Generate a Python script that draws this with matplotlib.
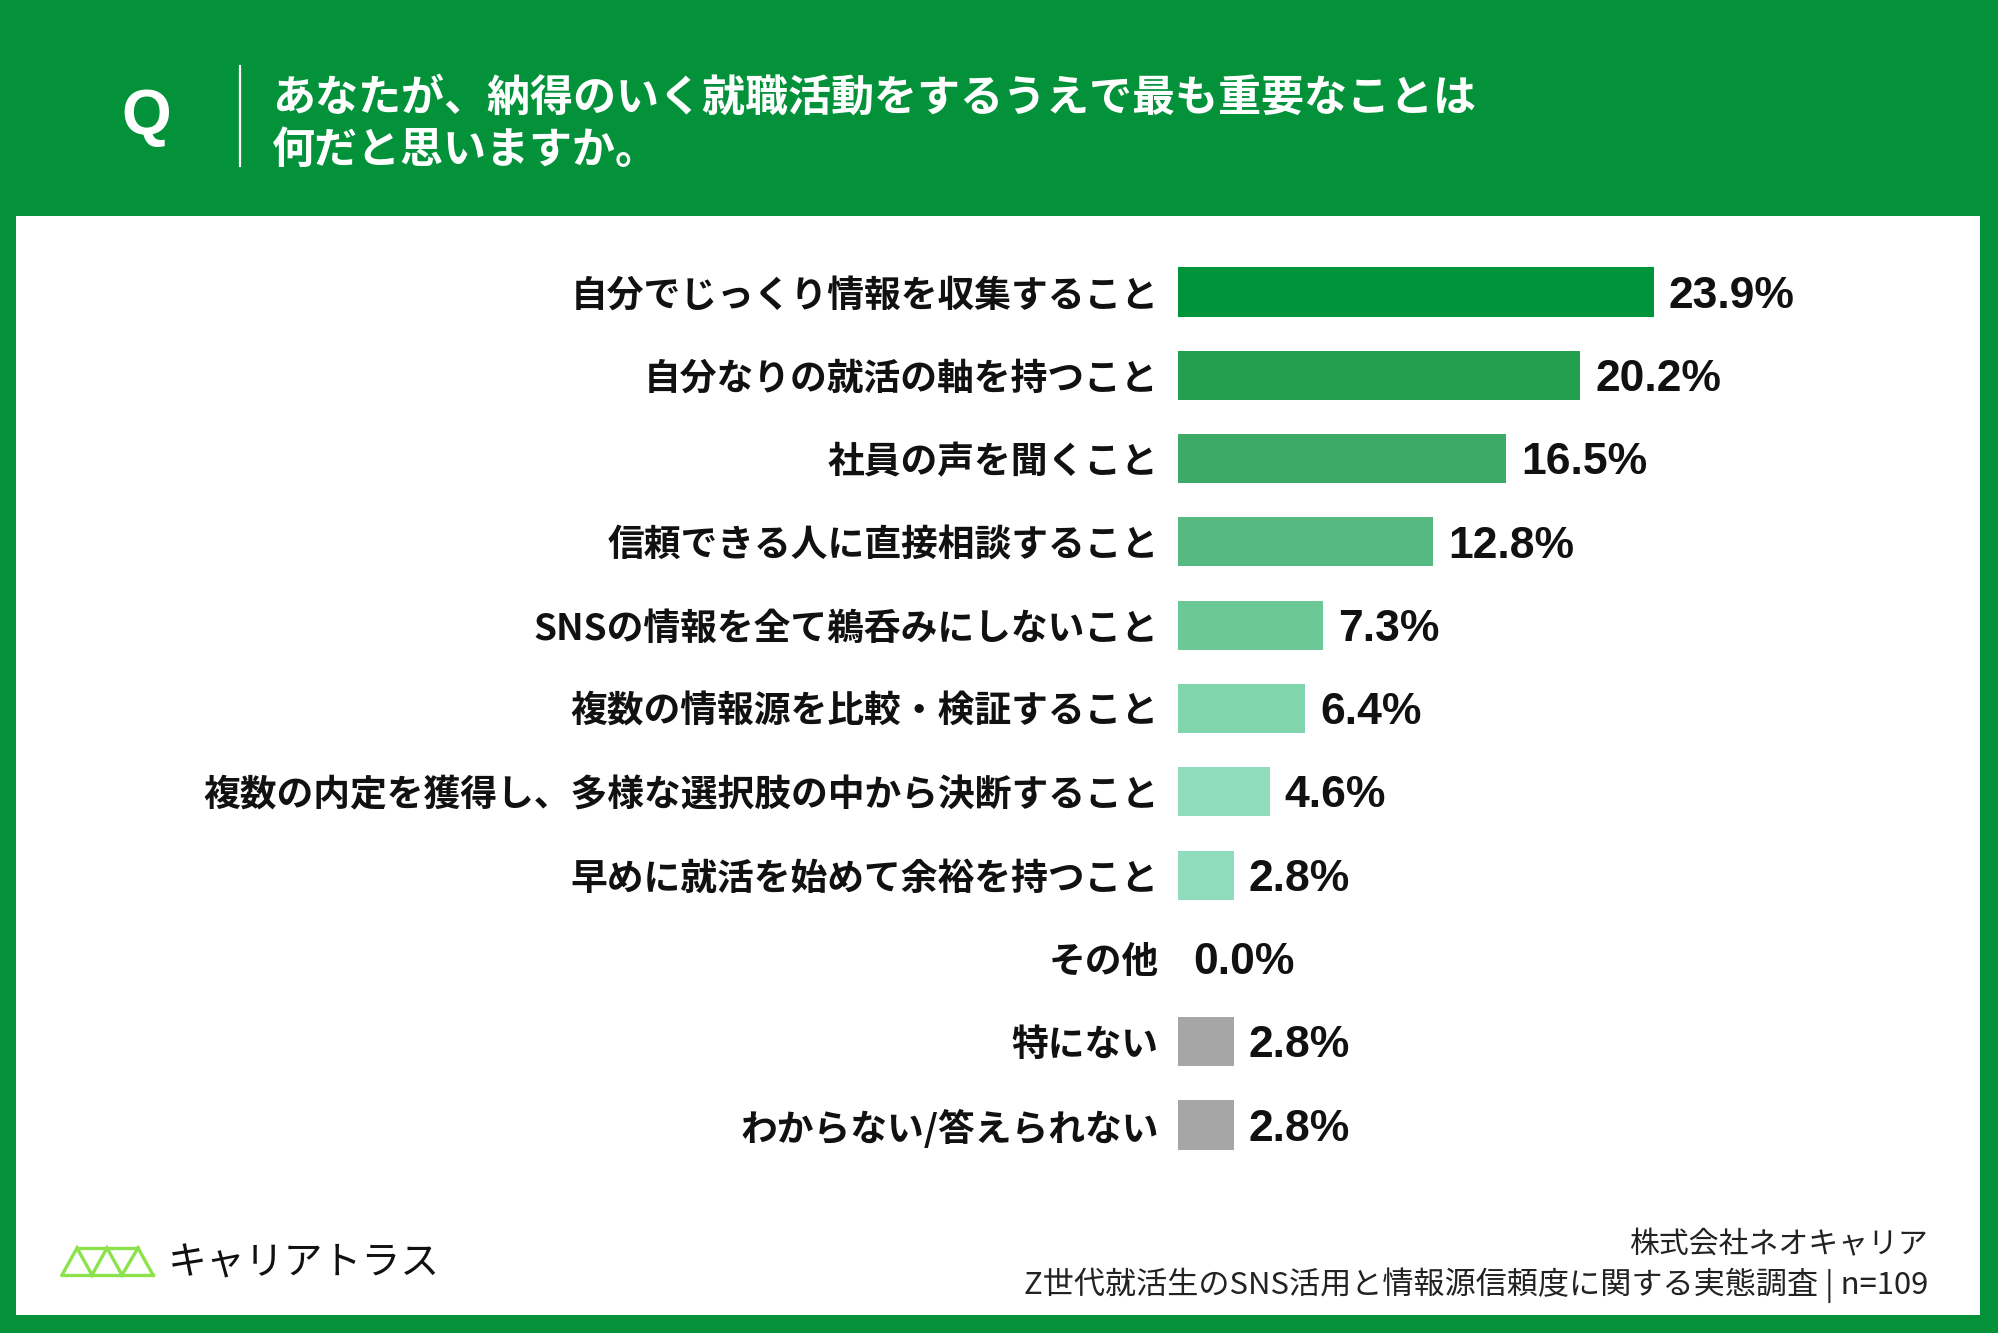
"""Job-hunting priorities survey: horizontal bar chart on a green card."""

import matplotlib.pyplot as plt
import matplotlib.patches as patches
from matplotlib.lines import Line2D

plt.rcParams['font.family'] = ['Noto Sans CJK JP', 'DejaVu Sans']

QUESTION = 'あなたが、納得のいく就職活動をするうえで最も重要なことは\n何だと思いますか。'
CATEGORIES = [
    '自分でじっくり情報を収集すること',
    '自分なりの就活の軸を持つこと',
    '社員の声を聞くこと',
    '信頼できる人に直接相談すること',
    'SNSの情報を全て鵜呑みにしないこと',
    '複数の情報源を比較・検証すること',
    '複数の内定を獲得し、多様な選択肢の中から決断すること',
    '早めに就活を始めて余裕を持つこと',
    'その他',
    '特にない',
    'わからない/答えられない',
]
VALUES = [23.9, 20.2, 16.5, 12.8, 7.3, 6.4, 4.6, 2.8, 0.0, 2.8, 2.8]
BAR_COLORS = [
    '#00953b', '#22a04f', '#3dab67', '#55b981', '#6bc897', '#80d5ac',
    '#8fddbc', '#8fddbc', '#8fddbc', '#a6a6a6', '#a6a6a6',
]
COMPANY = '株式会社ネオキャリア'
SURVEY = 'Z世代就活生のSNS活用と情報源信頼度に関する実態調査 | n=109'
BRAND = 'キャリアトラス'

GREEN = '#03923a'
W, H = 1999, 1333

fig = plt.figure(figsize=(W / 100, H / 100), dpi=100)
fig.patch.set_facecolor(GREEN)

# white card, kept below the axes
fig.patches.append(patches.Rectangle(
    (16 / W, 1 - 1315 / H), (1980 - 16) / W, (1315 - 216) / H,
    transform=fig.transFigure, facecolor='white', edgecolor='none', zorder=-5,
))

# header
fig.text(146 / W, 1 - 118 / H, 'Q', color='white', fontsize=46,
         fontweight='bold', ha='center', va='center',
         family=['Liberation Sans', 'DejaVu Sans'])
fig.add_artist(Line2D([240 / W, 240 / W], [1 - 66 / H, 1 - 166 / H],
                      color='white', linewidth=1.6, transform=fig.transFigure))
fig.text(272 / W, 1 - 124 / H, QUESTION, color='white', fontsize=31,
         fontweight='bold', ha='left', va='center', linespacing=1.25)

# chart area: bars start at x=1178px, ~19.9px per percent
left_px, top_px, step_px = 1178, 292 - 83.3 / 2, 83.3
ax = fig.add_axes([
    left_px / W,
    1 - (top_px + step_px * len(CATEGORIES)) / H,
    (19.9 * 40) / W,
    step_px * len(CATEGORIES) / H,
])
ax.set_zorder(5)
ax.set_facecolor('none')
positions = list(range(len(CATEGORIES)))
ax.barh(positions, VALUES, height=0.59, color=BAR_COLORS, zorder=2)
ax.set_xlim(0, 40)
ax.set_ylim(len(CATEGORIES) - 0.5, -0.5)
ax.set_xticks([])
ax.set_yticks(positions)
ax.set_yticklabels(CATEGORIES, fontsize=26.5, fontweight='bold', color='#111111')
ax.tick_params(axis='y', length=0, pad=14)
for spine in ax.spines.values():
    spine.set_visible(False)

for pos, value in zip(positions, VALUES):
    ax.annotate(f'{value:.1f}%', xy=(value, pos), xytext=(11, -3),
                textcoords='offset points', ha='left', va='center',
                fontsize=32, fontweight='bold', color='#111111',
                family=['Liberation Sans', 'DejaVu Sans'])

# footer logo: small truss
bottom_y, top_y = 1 - 1275 / H, 1 - 1248 / H
xs_bottom = [62, 92, 122, 153]
xs_top = [77, 107, 138]
zig_x, zig_y = [], []
for i, xb in enumerate(xs_bottom):
    zig_x.append(xb / W)
    zig_y.append(bottom_y)
    if i < len(xs_top):
        zig_x.append(xs_top[i] / W)
        zig_y.append(top_y)
logo_kw = dict(color='#8ce24a', linewidth=2.4, transform=fig.transFigure,
               solid_joinstyle='miter')
fig.add_artist(Line2D(zig_x, zig_y, **logo_kw))
fig.add_artist(Line2D([62 / W, 153 / W], [bottom_y, bottom_y], **logo_kw))
fig.add_artist(Line2D([77 / W, 138 / W], [top_y, top_y], **logo_kw))
fig.text(168 / W, 1 - 1263 / H, BRAND, fontsize=28, color='#111111',
         ha='left', va='center')

fig.text(1928 / W, 1 - 1245 / H, COMPANY, fontsize=21.5, color='#222222',
         ha='right', va='center')
fig.text(1928 / W, 1 - 1285 / H, SURVEY, fontsize=22.4, color='#222222',
         ha='right', va='center')

fig.savefig('out.png', dpi=100, facecolor=GREEN)
